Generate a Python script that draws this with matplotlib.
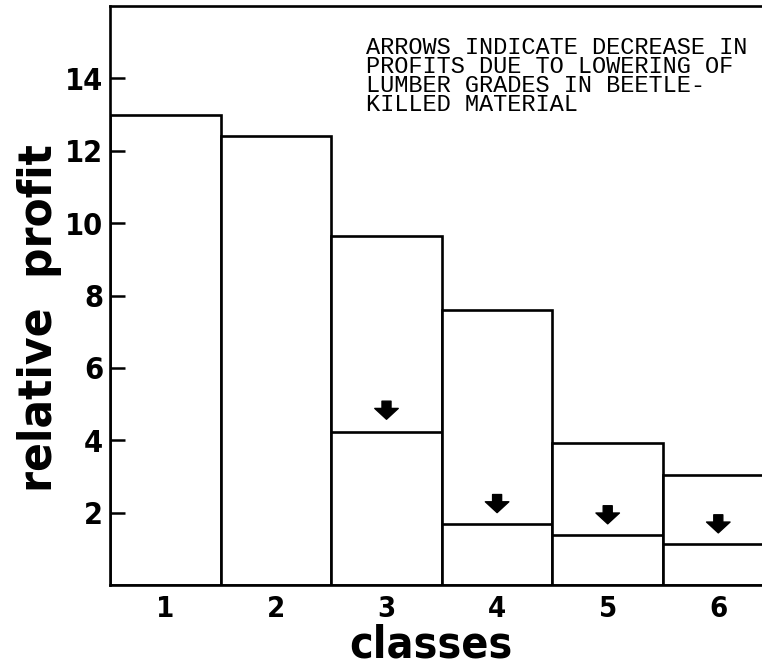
import matplotlib
matplotlib.use('Agg')
import matplotlib.pyplot as plt

# values
classes = [1, 2, 3, 4, 5, 6]
profit = [13.0, 12.42, 9.65, 7.6, 3.93, 3.03]
# profits after lowering of lumber grades (classes 3-6)
low_classes = [3, 4, 5, 6]
low_profit = [4.24, 1.68, 1.38, 1.12]
arrow_tip = [4.58, 2.0, 1.69, 1.44]
yticks = [2, 4, 6, 8, 10, 12, 14]
note = ('ARROWS INDICATE DECREASE IN\n'
        'PROFITS DUE TO LOWERING OF\n'
        'LUMBER GRADES IN BEETLE-\n'
        'KILLED MATERIAL')

bold = dict(family=['DejaVu Sans'], weight='bold', stretch='condensed')

fig = plt.figure(figsize=(7.62, 6.70), dpi=100)
W, H = 762, 670
ax = fig.add_axes([110 / W, 1 - 585 / H, (W - 110) / W, (585 - 6) / H])

bw_px = 110.6
ax.bar(classes, profit, width=1.0, color='white', edgecolor='black', linewidth=1.9)
ax.hlines(low_profit, [c - 0.5 for c in low_classes], [c + 0.5 for c in low_classes],
          colors='black', linewidth=1.9)

for c, t in zip(low_classes, arrow_tip):
    ax.annotate('', xy=(c, t), xytext=(c, t + 0.5),
                arrowprops=dict(arrowstyle='simple,head_length=0.6,head_width=1.3,tail_width=0.5',
                                fc='black', ec='black', mutation_scale=13,
                                shrinkA=0, shrinkB=0))

ax.set_xlim(0.5, 0.5 + (W - 110) / bw_px)
ax.set_ylim(0, 16)
ax.set_yticks(yticks)
ax.set_xticks(classes)
ax.tick_params(axis='y', direction='in', length=11, width=1.8, pad=5)
ax.tick_params(axis='x', length=0, pad=7)
for lab in ax.get_yticklabels():
    lab.set_fontproperties(dict(bold, size=22))
for lab in ax.get_xticklabels():
    lab.set_fontproperties(dict(bold, size=21))

ax.spines['right'].set_visible(False)
for s in ['left', 'top', 'bottom']:
    ax.spines[s].set_linewidth(1.9)

ax.text(0.392, 0.948, note, transform=ax.transAxes, ha='left', va='top',
        family=['Liberation Mono', 'DejaVu Sans Mono'], fontsize=17, linespacing=0.78)

fig.text(431 / W, 1 - 658 / H, 'classes', ha='center', va='baseline', fontsize=32, **bold)
fig.text(40 / W, 1 - 318 / H, 'relative  profit', ha='center', va='center',
         rotation=90, fontsize=34, **bold)

fig.savefig('out.png', dpi=100)
